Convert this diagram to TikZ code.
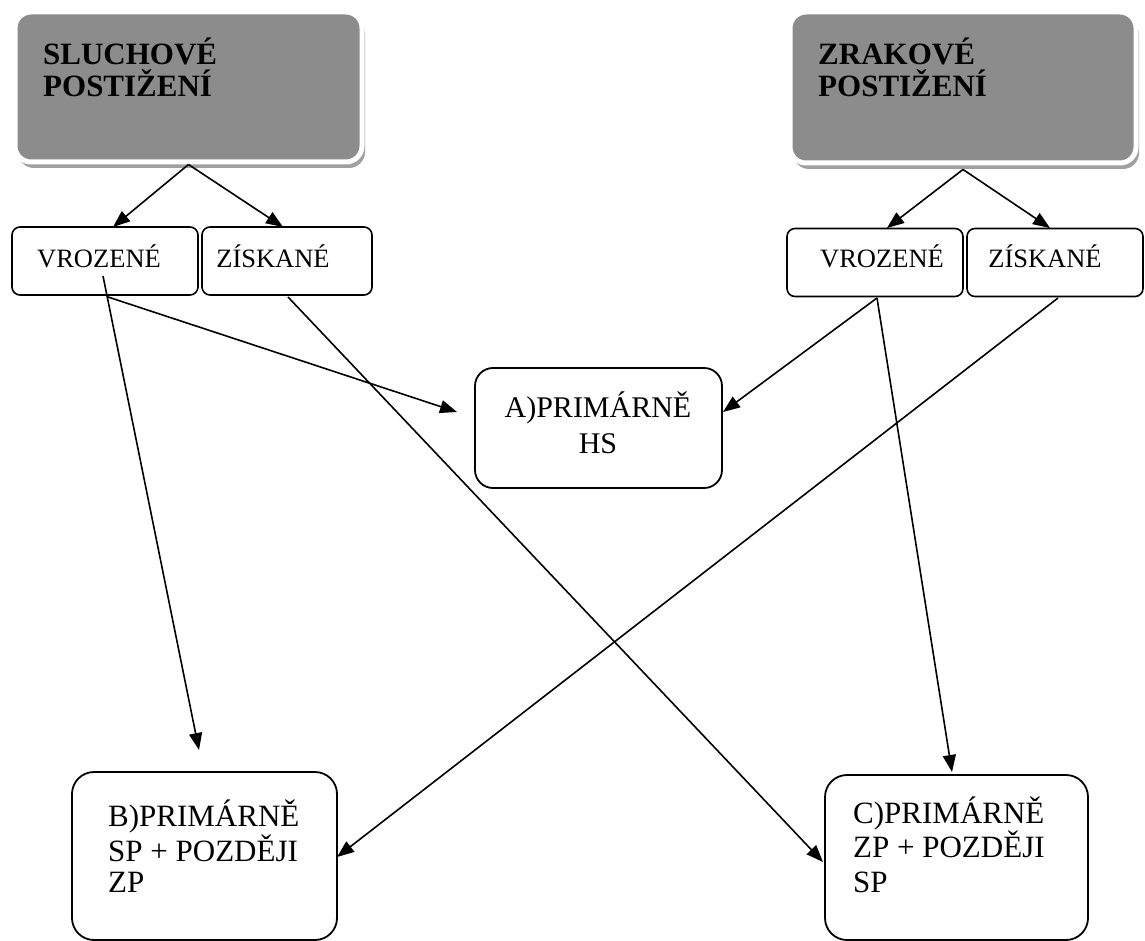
\documentclass[tikz,border=0pt]{standalone}
\usepackage{fontspec}
\setmainfont{Liberation Serif}
\usetikzlibrary{arrows.meta,shadows}
\definecolor{headfill}{HTML}{8C8C8C}
\definecolor{headshade}{HTML}{A0A0A0}

\begin{document}
\begin{tikzpicture}[x=1pt,y=-1pt,
  headbox/.style={rectangle, rounded corners=16pt, fill=headfill, draw=white,
    line width=5pt, inner sep=0pt,
    drop shadow={shadow xshift=3pt, shadow yshift=-6pt, fill=headshade, opacity=1}},
  headtext/.style={anchor=base west, align=left, inner sep=0pt,
    font=\fontsize{31}{32}\selectfont\bfseries},
  kindbox/.style={rectangle, rounded corners=8pt, draw=black, fill=white,
    line width=1.6pt, inner sep=0pt, minimum height=68pt},
  kindtext/.style={anchor=base, inner sep=0pt, font=\fontsize{26.5}{28}\selectfont},
  resultbox/.style={rectangle, rounded corners=22pt, draw=black, fill=white,
    line width=1.8pt, inner sep=0pt},
  resulttext/.style={anchor=base west, align=left, inner sep=0pt},
  link/.style={line width=1.6pt, -{Triangle[length=17pt,width=13pt]}}
]
\useasboundingbox (0,0) rectangle (1145,941);

% top category boxes
\node[headbox, minimum width=347pt, minimum height=150pt] (hear) at (188.5,87) {};
\node[headbox, minimum width=346pt, minimum height=151pt] (see)  at (963,87.5) {};
% multi-line labels are anchored at the baseline of their last line
\node[headtext] (hearT) at (43,97) {SLUCHOVÉ\\POSTIŽENÍ};
\node[headtext] (seeT)  at (818,97) {ZRAKOVÉ\\POSTIŽENÍ};

% congenital / acquired boxes
\node[kindbox, minimum width=186pt] (hv) at (105,261) {};
\node[kindbox, minimum width=170pt] (hz) at (287,261) {};
\node[kindbox, minimum width=176pt] (sv) at (875,262.5) {};
\node[kindbox, minimum width=176pt] (sz) at (1055,262.5) {};
\node[kindtext] (hvT) at (99,267) {VROZENÉ};
\node[kindtext] (hzT) at (273,267) {ZÍSKANÉ};
\node[kindtext] (svT) at (882,268) {VROZENÉ};
\node[kindtext] (szT) at (1045,268) {ZÍSKANÉ};

% outcome boxes
\node[resultbox, minimum width=247pt, minimum height=120pt, rounded corners=18pt] (A) at (598.5,428) {};
\node[resultbox, minimum width=265pt, minimum height=168pt] (B) at (204.5,856) {};
\node[resultbox, minimum width=263pt, minimum height=165pt] (C) at (956.5,857.5) {};
\node[anchor=base, align=center, inner sep=0pt, font=\fontsize{30}{36}\selectfont] (AT) at (598,453) {A)PRIMÁRNĚ\\HS};
\node[resulttext, font=\fontsize{31}{31}\selectfont] (BT) at (108,892) {B)PRIMÁRNĚ\\SP + POZDĚJI\\ZP};
\node[resulttext, font=\fontsize{31}{34.5}\selectfont] (CT) at (853,892) {C)PRIMÁRNĚ\\ZP + POZDĚJI\\SP};

% connector ends
\coordinate (hvIn) at (113,227);
\coordinate (hzIn) at (283,227);
\coordinate (svIn) at (887,228);
\coordinate (szIn) at (1050,228);
\coordinate (hvMid) at (103,276);
\coordinate (hvOut) at (108,297);
\coordinate (hzOut) at (288,297);
\coordinate (svOut) at (877,298);
\coordinate (szOut) at (1058,298);
\coordinate (AinL) at (457,412);
\coordinate (AinR) at (723,412);
\coordinate (Btop) at (199,750);
\coordinate (Bside) at (337,857);
\coordinate (Ctop) at (952,772);
\coordinate (Cside) at (823,862);

% connectors
\draw[link] (hear.south) -- (hvIn);
\draw[link] (hear.south) -- (hzIn);
\draw[link] ([yshift=-4pt]see.south) -- (svIn);
\draw[link] ([yshift=-4pt]see.south) -- (szIn);
\draw[link] (hvMid) -- (Btop);
\draw[link] (hvOut) -- (AinL);
\draw[link] (hzOut) -- (Cside);
\draw[link] (svOut) -- (AinR);
\draw[link] (svOut) -- (Ctop);
\draw[link] (szOut) -- (Bside);
\end{tikzpicture}
\end{document}
